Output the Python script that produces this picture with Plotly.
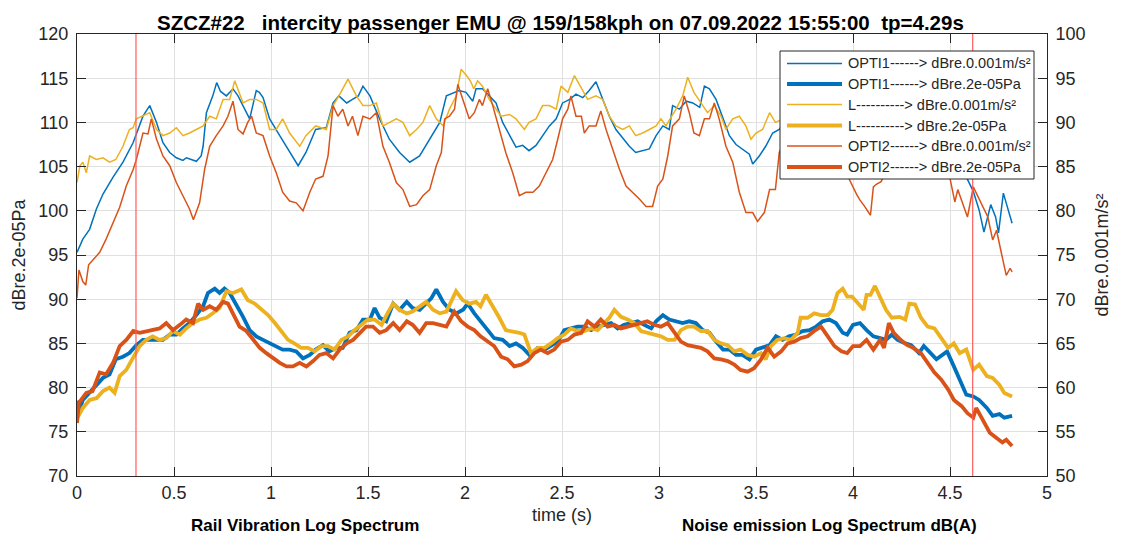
import plotly.graph_objects as go

# ---------------- data ----------------
# time axis (s) and levels
t_opti1_vib = [0.00,0.03,0.065,0.10,0.134,0.186,0.237,0.289,0.306,0.34,0.375,0.41,0.443,0.478,0.512,0.546,0.564,0.59,0.615,0.64,0.65,0.667,0.70,0.72,0.74,0.77,0.79,0.804,0.83,0.856,0.89,0.924,0.94,0.959,0.993,1.045,1.096,1.14,1.18,1.23,1.285,1.32,1.35,1.39,1.42,1.45,1.474,1.51,1.56,1.61,1.663,1.715,1.766,1.818,1.87,1.904,1.955,1.97,2.005,2.04,2.057,2.09,2.125,2.16,2.194,2.23,2.263,2.297,2.33,2.366,2.40,2.435,2.47,2.503,2.54,2.572,2.607,2.64,2.675,2.71,2.744,2.778,2.813,2.847,2.88,2.916,2.95,2.985,3.02,3.053,3.07,3.105,3.14,3.174,3.21,3.234,3.26,3.294,3.33,3.363,3.397,3.43,3.466,3.483,3.517,3.55,3.586,3.62,3.65,3.70,3.75,3.80,3.85,3.90,3.95,4.00,4.05,4.10,4.15,4.20,4.25,4.30,4.35,4.40,4.45,4.50,4.55,4.58,4.62,4.65,4.675,4.71,4.735,4.75,4.775,4.80,4.82]
opti1_vib = [75.3,76.8,77.9,80.2,81.9,83.8,85.5,87.7,88.7,90.7,91.9,90.0,87.7,86.6,86.0,85.7,86.0,85.8,85.6,86.2,87.3,91.1,93.0,94.5,93.5,93.0,93.5,93.8,93.0,91.9,90.4,93.6,93.4,92.8,90.4,88.5,86.6,85.1,86.6,89.2,89.4,92.2,93.0,92.2,92.6,93.0,94.1,93.0,90.4,88.1,86.6,85.5,86.2,88.1,90.0,93.0,93.4,93.6,93.4,92.4,93.8,93.8,93.0,92.2,90.0,88.5,87.2,87.4,86.8,87.4,88.5,89.6,90.4,92.2,92.6,93.2,92.8,93.6,94.6,92.6,90.7,89.2,88.3,87.3,86.6,86.8,87.0,88.5,89.6,89.2,91.9,91.5,92.4,92.2,91.7,94.1,93.8,92.6,90.4,88.5,87.5,87.0,86.4,85.3,86.2,87.3,88.8,89.2,90.2,91.3,92.5,92.0,93.5,92.8,91.0,89.5,88.0,87.0,88.0,89.5,91.0,92.5,91.5,93.0,92.0,89.0,86.0,84.0,82.2,80.1,77.6,80.7,79.3,77.5,82.0,80.1,78.6]

t_opti1_noise = [0.00,0.015,0.03,0.065,0.10,0.134,0.168,0.20,0.237,0.27,0.306,0.34,0.375,0.41,0.443,0.478,0.512,0.546,0.58,0.615,0.65,0.675,0.71,0.735,0.76,0.787,0.82,0.856,0.89,0.924,0.959,0.993,1.027,1.06,1.096,1.13,1.165,1.20,1.23,1.268,1.30,1.337,1.37,1.405,1.44,1.474,1.51,1.534,1.56,1.594,1.63,1.663,1.70,1.73,1.766,1.80,1.826,1.852,1.887,1.92,1.955,1.99,2.014,2.048,2.08,2.117,2.15,2.194,2.23,2.263,2.297,2.34,2.375,2.41,2.443,2.478,2.512,2.546,2.58,2.615,2.65,2.684,2.718,2.753,2.787,2.82,2.856,2.89,2.924,2.96,2.985,3.02,3.053,3.088,3.122,3.156,3.19,3.225,3.26,3.294,3.33,3.363,3.397,3.43,3.466,3.50,3.534,3.57,3.603,3.637,3.67,3.706,3.74,3.775,3.81,3.844,3.878,3.912,3.947,3.97,4.00,4.036,4.07,4.105,4.14,4.17,4.20,4.23,4.27,4.30,4.34,4.365,4.40,4.43,4.46,4.485,4.52,4.55,4.584,4.62,4.65,4.69,4.72,4.755,4.78,4.82]
opti1_noise = [78.5,77.6,78.6,79.4,80.2,81.1,81.5,83.2,83.5,83.9,84.8,85.4,85.4,85.4,85.4,86.0,86.0,86.7,87.3,88.2,89.2,90.7,91.2,90.7,91.2,90.7,89.5,88.0,86.5,85.8,85.4,85.0,84.7,84.3,84.3,84.1,83.3,83.7,84.3,84.8,84.1,84.5,84.5,86.2,86.5,87.7,87.7,89.0,87.9,87.5,89.5,88.8,89.7,89.0,88.8,89.5,90.1,91.1,89.7,88.8,88.4,88.8,89.5,88.4,87.5,86.5,85.6,85.4,84.7,85.0,84.5,83.5,84.5,84.3,84.7,85.2,86.5,86.7,86.9,86.9,86.5,86.9,87.1,87.3,86.7,87.1,87.3,87.5,87.1,86.7,87.5,88.2,87.7,87.5,87.3,87.5,87.3,86.5,86.2,85.2,84.3,84.3,83.7,83.7,83.2,84.3,84.5,84.8,85.8,85.4,85.8,86.0,86.4,86.5,86.9,87.5,87.7,87.3,86.2,86.0,87.1,87.3,86.5,85.8,85.6,85.4,86.0,85.4,85.0,84.8,83.9,84.7,83.9,83.2,83.7,84.1,82.4,80.9,79.2,79.0,78.6,77.7,76.8,77.0,76.6,76.8]

t_l_vib = [0.00,0.015,0.03,0.048,0.065,0.10,0.134,0.168,0.20,0.237,0.27,0.289,0.306,0.34,0.375,0.41,0.443,0.478,0.512,0.546,0.58,0.615,0.65,0.684,0.718,0.753,0.787,0.813,0.856,0.89,0.924,0.959,0.993,1.027,1.06,1.096,1.148,1.18,1.23,1.285,1.32,1.35,1.397,1.44,1.474,1.51,1.543,1.577,1.61,1.646,1.68,1.715,1.75,1.783,1.818,1.852,1.887,1.92,1.955,1.98,2.015,2.03,2.045,2.065,2.09,2.125,2.16,2.186,2.23,2.263,2.306,2.33,2.366,2.40,2.435,2.47,2.495,2.53,2.564,2.60,2.632,2.675,2.71,2.744,2.778,2.813,2.847,2.88,2.916,2.95,2.985,3.01,3.036,3.06,3.088,3.122,3.148,3.18,3.216,3.25,3.285,3.32,3.345,3.38,3.414,3.448,3.474,3.50,3.534,3.57,3.60,3.65,3.70,3.75,3.80,3.85,3.90,3.95,4.00,4.05,4.10,4.15,4.20,4.25,4.30,4.35,4.40,4.45,4.50,4.55,4.60,4.65,4.70,4.75,4.82]
l_vib = [83.2,85.1,85.5,84.3,86.2,85.8,86.0,85.5,85.8,87.3,89.2,89.4,90.4,90.7,91.1,89.2,88.5,88.8,89.4,88.5,88.8,89.2,89.6,90.7,90.4,92.6,92.6,94.7,92.2,92.6,92.6,92.2,89.2,89.2,90.4,88.8,87.3,88.5,89.6,89.2,91.9,93.0,94.9,93.0,91.9,91.9,92.2,89.6,90.0,90.4,90.0,88.5,89.2,90.0,91.9,90.4,89.6,91.5,93.0,96.0,95.1,94.6,93.8,94.7,94.1,92.6,91.5,90.7,90.9,90.4,89.2,90.0,90.4,91.9,91.9,91.5,94.1,93.4,95.3,93.8,92.6,93.0,92.6,90.7,89.6,89.2,89.6,88.5,88.8,89.2,89.6,90.4,89.6,90.5,91.5,93.0,95.1,93.4,92.2,91.1,91.9,90.7,89.2,90.4,90.7,89.6,88.1,88.8,89.2,91.1,90.0,90.5,91.0,92.5,93.5,95.0,93.5,92.5,91.0,90.5,89.5,90.0,91.0,92.0,93.0,92.0,93.5,94.5,93.0,92.0,90.0,89.0,88.0,87.0,86.5]

t_l_noise = [0.00,0.015,0.03,0.065,0.10,0.134,0.168,0.194,0.22,0.254,0.29,0.323,0.357,0.39,0.426,0.46,0.495,0.53,0.563,0.598,0.632,0.667,0.70,0.735,0.77,0.804,0.847,0.88,0.916,0.95,0.985,1.02,1.053,1.088,1.12,1.156,1.19,1.225,1.26,1.294,1.328,1.363,1.397,1.43,1.466,1.50,1.534,1.57,1.60,1.63,1.663,1.70,1.73,1.766,1.80,1.835,1.87,1.904,1.954,1.988,2.022,2.057,2.08,2.108,2.143,2.177,2.21,2.246,2.28,2.306,2.34,2.375,2.41,2.443,2.478,2.512,2.546,2.58,2.615,2.65,2.684,2.718,2.744,2.77,2.804,2.838,2.873,2.907,2.94,2.976,3.01,3.045,3.08,3.113,3.148,3.18,3.216,3.25,3.285,3.32,3.354,3.388,3.42,3.457,3.49,3.526,3.55,3.577,3.61,3.646,3.68,3.715,3.73,3.766,3.80,3.835,3.87,3.895,3.92,3.947,3.97,3.995,4.03,4.055,4.07,4.09,4.113,4.14,4.17,4.20,4.24,4.27,4.29,4.32,4.35,4.385,4.42,4.455,4.49,4.52,4.55,4.584,4.62,4.65,4.69,4.72,4.755,4.78,4.82]
l_noise = [76.5,77.1,77.7,78.6,78.8,79.6,80.0,79.4,81.3,82.0,83.5,84.7,85.4,85.8,85.4,85.6,86.4,86.0,86.7,87.3,87.7,87.9,88.4,89.0,90.9,90.7,91.1,89.9,89.5,88.8,88.2,87.3,86.4,85.4,85.0,84.5,84.5,84.1,84.7,84.7,84.3,85.4,85.8,86.5,87.1,87.7,87.7,87.1,88.4,89.5,88.8,88.4,88.6,89.2,89.7,88.8,88.4,88.6,90.9,89.9,89.5,89.7,89.2,90.5,89.2,87.9,86.5,86.4,86.2,86.0,83.9,84.5,84.5,85.0,85.6,86.0,86.7,86.4,86.4,86.7,86.5,87.3,87.9,88.8,88.0,87.7,87.3,86.4,86.2,86.0,85.8,85.4,85.4,86.5,86.9,86.9,86.4,86.4,85.4,85.0,84.8,84.1,84.3,83.7,83.5,83.9,83.2,84.7,85.4,85.6,85.4,86.2,87.9,87.9,88.4,88.2,88.2,88.8,90.7,91.2,90.3,90.3,89.5,88.8,90.5,90.5,91.5,90.3,88.8,87.9,88.0,87.7,89.5,89.4,87.9,86.9,86.7,85.6,84.5,85.0,83.9,84.3,82.0,82.6,81.3,81.1,80.3,79.4,79.0]

t_opti2_vib = [0.00,0.01,0.03,0.045,0.06,0.08,0.117,0.15,0.186,0.22,0.254,0.29,0.306,0.34,0.366,0.383,0.41,0.443,0.478,0.512,0.546,0.58,0.60,0.632,0.658,0.684,0.718,0.753,0.778,0.804,0.83,0.856,0.88,0.90,0.924,0.959,0.993,1.027,1.06,1.096,1.13,1.165,1.20,1.23,1.268,1.294,1.32,1.345,1.37,1.397,1.42,1.448,1.474,1.51,1.543,1.577,1.61,1.646,1.68,1.715,1.75,1.783,1.818,1.852,1.878,1.895,1.92,1.946,1.963,1.99,2.022,2.048,2.074,2.09,2.117,2.143,2.177,2.21,2.246,2.28,2.314,2.35,2.383,2.418,2.452,2.478,2.503,2.53,2.546,2.572,2.60,2.615,2.64,2.675,2.70,2.727,2.76,2.796,2.83,2.864,2.90,2.933,2.967,2.993,3.02,3.045,3.07,3.105,3.13,3.156,3.18,3.208,3.234,3.26,3.285,3.31,3.345,3.38,3.414,3.448,3.483,3.508,3.543,3.57,3.60,3.62,3.66,3.70,3.75,3.80,3.85,3.90,3.94,3.98,4.02,4.036,4.06,4.09,4.105,4.12,4.145,4.16,4.20,4.25,4.30,4.35,4.40,4.45,4.50,4.525,4.54,4.565,4.59,4.62,4.645,4.67,4.695,4.72,4.74,4.765,4.79,4.81,4.82]
opti2_vib = [70.1,73.3,72.0,71.6,73.9,74.4,75.3,76.8,78.7,80.4,82.8,84.7,85.8,88.8,88.7,90.4,88.1,86.2,85.1,83.2,81.7,80.2,79.0,80.9,84.7,87.3,88.5,89.6,90.7,92.4,89.2,88.7,90.0,90.7,88.8,88.5,86.2,84.3,82.1,81.1,80.9,80.0,82.1,83.6,83.9,86.2,91.9,90.7,91.5,89.6,90.7,88.5,90.7,90.4,91.1,87.3,85.5,83.2,82.4,80.5,80.7,81.7,82.4,85.1,86.6,90.4,90.7,91.5,94.3,92.6,90.4,91.1,92.6,91.9,93.8,91.9,89.2,86.6,84.3,81.7,82.1,82.1,82.8,84.3,85.8,88.1,90.4,91.5,93.0,90.7,90.7,88.8,89.6,89.6,91.3,89.2,87.0,84.7,82.8,82.1,81.3,80.5,80.5,82.8,83.6,86.2,89.6,90.4,93.0,91.1,88.8,88.5,90.4,90.4,92.2,90.4,87.3,85.5,82.1,79.8,79.8,78.8,79.8,82.4,82.4,86.6,88.5,90.5,92.0,91.0,93.0,90.5,87.0,83.6,81.8,81.2,80.5,79.5,82.7,83.0,83.3,84.0,86.0,88.5,91.0,90.0,92.0,89.0,83.5,81.0,82.4,80.9,79.3,82.7,81.6,80.5,79.3,76.7,77.8,75.2,72.7,73.5,73.1]

t_opti2_noise = [0.00,0.01,0.048,0.08,0.117,0.15,0.186,0.22,0.254,0.29,0.323,0.357,0.39,0.426,0.46,0.495,0.53,0.563,0.598,0.624,0.65,0.684,0.718,0.753,0.778,0.804,0.838,0.873,0.907,0.942,0.976,1.01,1.045,1.08,1.113,1.148,1.182,1.217,1.25,1.285,1.32,1.354,1.39,1.423,1.457,1.49,1.526,1.56,1.594,1.63,1.663,1.70,1.73,1.766,1.80,1.835,1.87,1.904,1.945,1.98,2.014,2.048,2.08,2.117,2.15,2.186,2.22,2.254,2.29,2.323,2.357,2.39,2.426,2.46,2.495,2.53,2.564,2.60,2.632,2.667,2.70,2.735,2.77,2.804,2.838,2.873,2.907,2.94,2.976,3.01,3.045,3.08,3.113,3.148,3.18,3.216,3.25,3.285,3.32,3.354,3.388,3.42,3.457,3.49,3.526,3.56,3.594,3.63,3.663,3.697,3.73,3.766,3.80,3.835,3.87,3.904,3.94,3.97,4.00,4.036,4.07,4.105,4.14,4.16,4.185,4.21,4.245,4.28,4.31,4.35,4.385,4.42,4.455,4.49,4.52,4.56,4.59,4.62,4.635,4.67,4.705,4.74,4.77,4.79,4.82]
opti2_noise = [76.0,78.3,79.4,79.6,81.7,81.5,82.8,84.7,85.4,86.4,86.2,86.4,86.5,86.7,87.3,86.5,87.1,87.7,87.3,89.5,88.8,89.2,88.8,89.7,89.5,88.4,86.9,86.4,85.4,84.5,83.9,83.3,82.8,82.4,82.4,82.8,82.4,83.0,83.7,83.9,83.3,84.3,85.0,85.4,86.2,86.9,86.9,86.2,86.5,87.3,86.5,87.5,87.1,86.2,87.3,87.3,87.1,86.9,88.6,87.5,86.9,86.5,85.8,85.2,84.7,83.5,83.2,82.4,82.6,83.0,83.9,84.3,83.9,84.3,85.2,85.4,86.0,86.2,87.5,86.9,87.7,86.9,87.1,86.7,86.9,87.1,87.3,87.5,87.1,86.9,87.3,86.2,85.2,84.8,84.7,84.5,84.1,83.3,83.2,83.0,82.6,82.0,81.8,82.2,83.2,84.5,83.5,84.1,85.0,85.2,85.6,85.8,86.4,86.9,85.8,84.7,84.1,83.9,84.7,84.7,85.4,84.3,85.4,84.5,87.3,86.2,85.4,84.8,84.5,83.9,82.8,81.7,80.9,79.8,78.6,77.9,77.1,76.6,77.7,76.4,74.9,74.3,73.8,74.1,73.4]

legend_names = [
    "OPTI1------> dBre.0.001m/s²",
    "OPTI1------> dBre.2e-05Pa",
    "L----------> dBre.0.001m/s²",
    "L----------> dBre.2e-05Pa",
    "OPTI2------> dBre.0.001m/s²",
    "OPTI2------> dBre.2e-05Pa",
]
event_times = [0.304, 4.617]   # red vertical markers (s)
x_ticks = [0, 0.5, 1, 1.5, 2, 2.5, 3, 3.5, 4, 4.5, 5]
x_tick_labels = ["0", "0.5", "1", "1.5", "2", "2.5", "3", "3.5", "4", "4.5", "5"]

BLUE, ORANGE, YELLOW = "#0072BD", "#D95319", "#EDB120"
FONT = "Liberation Sans, Arial, Helvetica, sans-serif"
AX = "#262626"

# page is offset by the 8px default body margin -> work in page pixels
OFF = 8
W, H = 1124, 539
PL, PR, PT, PB = 77, 1047, 34, 476          # plot-area edges in page pixels


def px(xp):      # page x -> paper
    return (xp - PL) / (PR - PL)


def py(yp):      # page y -> paper
    return (PB - yp) / (PB - PT)


fig = go.Figure()
series = [
    (t_opti1_vib, opti1_vib, BLUE, 1.5, "y2"),
    (t_opti1_noise, opti1_noise, BLUE, 3.8, "y"),
    (t_l_vib, l_vib, YELLOW, 1.5, "y2"),
    (t_l_noise, l_noise, YELLOW, 3.8, "y"),
    (t_opti2_vib, opti2_vib, ORANGE, 1.5, "y2"),
    (t_opti2_noise, opti2_noise, ORANGE, 3.8, "y"),
]
for (tx, vy, col, w, ax), name in zip(series, legend_names):
    fig.add_trace(go.Scatter(x=tx, y=vy, mode="lines", name=name, yaxis=ax,
                             showlegend=False, line=dict(color=col, width=w)))

for et in event_times:
    fig.add_shape(type="line", xref="x", yref="paper", x0=et, x1=et, y0=0, y1=1,
                  line=dict(color="#FF5C5C", width=1.2), layer="above")

# legend box (drawn by hand so that its geometry matches)
LX0, LX1, LY0, LY1 = 780, 1034, 51, 179
fig.add_shape(type="rect", xref="paper", yref="paper",
              x0=px(LX0), x1=px(LX1), y0=py(LY1), y1=py(LY0),
              fillcolor="white", line=dict(color="#262626", width=1), layer="above")
annotations = []
row_y = [63.5, 84.0, 104.5, 125.5, 146.0, 167.0]
for (tx, vy, col, w, ax), name, ry in zip(series, legend_names, row_y):
    fig.add_shape(type="line", xref="paper", yref="paper",
                  x0=px(787), x1=px(842), y0=py(ry), y1=py(ry),
                  line=dict(color=col, width=w), layer="above")
    annotations.append(dict(text=name, xref="paper", yref="paper",
                            x=px(846), y=py(ry), xanchor="left", yanchor="middle",
                            showarrow=False,
                            font=dict(family=FONT, size=14.5, color="#262626")))

annotations += [
    dict(text="<b>Rail Vibration Log Spectrum</b>", xref="paper", yref="paper",
         x=px(305), y=py(537), xanchor="center", yanchor="bottom",
         showarrow=False, font=dict(family=FONT, size=17, color="black")),
    dict(text="<b>Noise emission Log Spectrum dB(A)</b>", xref="paper", yref="paper",
         x=px(829), y=py(537), xanchor="center", yanchor="bottom",
         showarrow=False, font=dict(family=FONT, size=17, color="black")),
    # chart title (as annotation so it can sit right at the top edge)
    dict(text="<b>SZCZ#22\u00a0\u00a0\u00a0intercity passenger EMU @ 159/158kph on 07.09.2022 15:55:00\u00a0\u00a0tp=4.29s</b>",
         xref="paper", yref="paper", x=px(560), y=py(9), xanchor="center", yanchor="top",
         showarrow=False, font=dict(family=FONT, size=20.5, color="black")),
]

fig.update_layout(
    width=W, height=H,
    margin=dict(l=PL - OFF, r=W - (PR - OFF), t=PT - OFF, b=H - (PB - OFF), autoexpand=False),
    paper_bgcolor="white", plot_bgcolor="white",
    font=dict(family=FONT, size=18, color=AX),
    showlegend=False,
    xaxis=dict(range=[0, 5], tickvals=x_ticks, ticktext=x_tick_labels,
               showgrid=True, gridcolor="#E0E0E0", gridwidth=1,
               ticks="inside", ticklen=9, tickcolor=AX, automargin=False,
               showline=True, linecolor=AX, linewidth=1, mirror="ticks",
               zeroline=False, tickfont=dict(size=18),
               title=dict(text="time (s)", font=dict(size=18), standoff=6)),
    yaxis=dict(range=[70, 120], dtick=5, showgrid=True, gridcolor="#E0E0E0",
               ticks="inside", ticklen=9, tickcolor=AX, automargin=False,
               showline=True, linecolor=AX, linewidth=1, zeroline=False,
               tickfont=dict(size=18), ticklabelstandoff=4,
               title=dict(text="dBre.2e-05Pa", font=dict(size=18), standoff=8)),
    yaxis2=dict(range=[50, 100], dtick=5, overlaying="y", side="right",
                showgrid=False, ticks="inside", ticklen=9, tickcolor=AX,
                automargin=False, tickfont=dict(size=18), ticklabelstandoff=4,
                showline=True, linecolor=AX, linewidth=1, zeroline=False,
                title=dict(text="dBre.0.001m/s²", font=dict(size=18), standoff=10)),
    annotations=annotations,
)

fig.write_html("out.html")
